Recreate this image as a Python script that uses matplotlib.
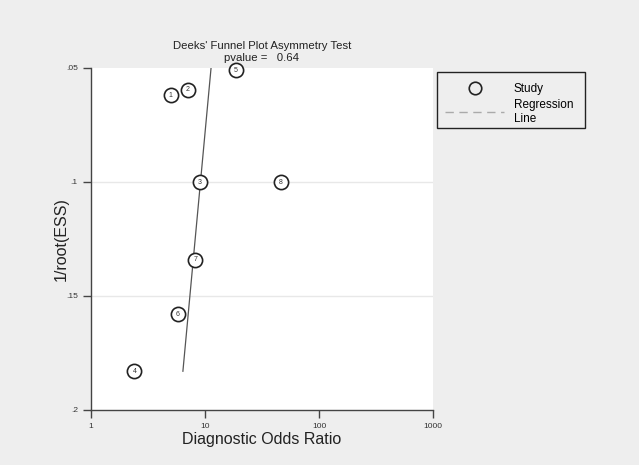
import matplotlib
matplotlib.use("Agg")
import matplotlib.pyplot as plt
from matplotlib.lines import Line2D
from matplotlib.patches import Rectangle

plt.rcParams['font.family'] = ['Liberation Sans', 'DejaVu Sans']

# study data
study_ids = [1, 2, 3, 4, 5, 6, 7, 8]
dor = [5.0, 7.1, 9.0, 2.4, 18.7, 5.8, 8.2, 46.0]
inv_root_ess = [0.062, 0.0596, 0.100, 0.183, 0.0509, 0.158, 0.134, 0.100]

# regression line end points
reg_y = [0.050, 0.183]
reg_dor = [11.3, 6.4]

pvalue = 0.64

bg = '#eeeeee'
W, H = 639, 465
fig = plt.figure(figsize=(W/100, H/100), dpi=100, facecolor=bg)
ax = fig.add_axes([91/W, 1-410/H, 342/W, 342/H])
ax.set_facecolor('white')

ax.set_xscale('log')
ax.set_xlim(1, 1000)
ax.set_ylim(0.2, 0.05)

# light grid at inner y ticks
for yv in [0.1, 0.15]:
    ax.axhline(yv, color='#e8e8e8', lw=1, zorder=0)

ax.plot(reg_dor, reg_y, color='#555555', lw=0.9, zorder=2)

ax.scatter(dor, inv_root_ess, s=105, facecolor='white', edgecolor='#222222',
           linewidth=1.2, zorder=3, clip_on=False)
for i, x, y in zip(study_ids, dor, inv_root_ess):
    ax.text(x, y, str(i), fontsize=5, ha='center', va='center', color='#333333', zorder=4)

ax.set_xticks([1, 10, 100, 1000])
ax.set_xticklabels(['1', '10', '100', '1000'])
ax.minorticks_off()
ax.set_yticks([0.05, 0.1, 0.15, 0.2])
ax.set_yticklabels(['.05', '.1', '.15', '.2'])
ax.tick_params(labelsize=6, length=6, width=1, color='#444444', labelcolor='#333333', direction='out')

for s in ['top', 'right']:
    ax.spines[s].set_visible(False)
for s in ['left', 'bottom']:
    ax.spines[s].set_color('#444444')
    ax.spines[s].set_linewidth(1)

ax.set_xlabel('Diagnostic Odds Ratio', fontsize=11.5, color='#222222', labelpad=1)
ax.set_ylabel('1/root(ESS)', fontsize=11.5, color='#222222', labelpad=-2)

fig.text(262/W, 1-46/H, "Deeks' Funnel Plot Asymmetry Test", ha='center', va='center',
         fontsize=8.2, color='#222222')
fig.text(262/W, 1-58/H, "pvalue =   %.2f" % pvalue, ha='center', va='center',
         fontsize=8.2, color='#222222')

# legend frame drawn separately so its size matches
fig.patches.append(Rectangle((437/W, 1-128/H), 148/W, 56/H, transform=fig.transFigure,
                             facecolor=bg, edgecolor='#222222', lw=1))

handles = [
    Line2D([], [], marker='o', ls='none', markersize=9, markerfacecolor='none',
           markeredgecolor='#222222', markeredgewidth=1.2),
    Line2D([], [], color='#aaaaaa', ls=(0, (6, 4)), lw=1),
]
leg = fig.legend(handles, ['Study', 'Regression\nLine'], loc='upper left',
                 bbox_to_anchor=(435/W, 1-73/H), fontsize=8.5, frameon=False,
                 handlelength=5.0, handletextpad=0.8, borderpad=0.85, labelspacing=0.35,
                 borderaxespad=0)

fig.savefig('out.png', dpi=100, facecolor=bg)
